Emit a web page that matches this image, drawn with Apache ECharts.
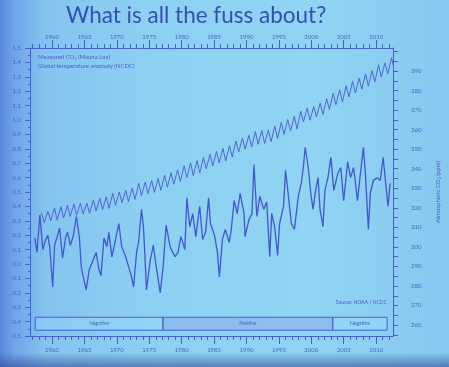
<!DOCTYPE html>
<html><head><meta charset="utf-8">
<script src="https://cdn.jsdelivr.net/npm/echarts@6/dist/echarts.min.js"></script>
<style>
html,body{margin:0;padding:0;width:449px;height:367px;overflow:hidden;}
body{background:
 linear-gradient(to bottom, rgba(0,0,0,0) 0%, rgba(0,0,0,0) 96%, rgba(40,60,140,0.55) 100%),
 linear-gradient(to right, #5a86dc 0%, #6fa3e8 3%, #84c4f0 10%, #8dd1f2 35%, #8fd4f2 70%, #86c8f0 100%);}
#c{width:449px;height:367px;filter:blur(0.45px);}
</style></head><body><div id="c"></div>
<script>
// ---- data ----
const titleText = 'What is all the fuss about?';
const yearLabels = [1960,1965,1970,1975,1980,1985,1990,1995,2000,2005,2010];
const co2Labels = [260,270,280,290,300,310,320,330,340,350,360,370,380,390];
const co2Years = [1958,1959,1960,1961,1962,1963,1964,1965,1966,1967,1968,1969,1970,1971,1972,1973,1974,1975,1976,1977,1978,1979,1980,1981,1982,1983,1984,1985,1986,1987,1988,1989,1990,1991,1992,1993,1994,1995,1996,1997,1998,1999,2000,2001,2002,2003,2004,2005,2006,2007,2008,2009,2010,2011,2012];
const co2MayPeak = [317.5,318.3,320.0,320.6,321.4,322.0,322.3,322.4,324.1,324.9,325.6,327.4,328.1,328.9,330.1,332.5,333.1,334.0,335.0,336.7,338.0,339.5,341.5,343.0,344.1,345.8,347.4,348.9,350.4,351.8,354.2,355.7,357.1,359.0,359.6,359.9,361.8,363.8,365.2,366.8,369.5,371.0,371.8,373.6,375.9,378.6,380.4,382.4,384.7,386.4,388.5,390.2,393.2,394.2,396.8];
const co2AutumnLow = [312.4,313.3,313.8,314.8,315.6,316.2,316.8,317.2,318.3,319.1,319.7,321.3,322.6,323.1,324.3,326.2,327.2,327.9,328.9,330.5,332.1,333.4,335.4,336.5,337.9,340.0,341.4,343.0,343.9,346.0,348.6,350.0,351.1,352.5,352.9,353.9,355.5,357.6,359.2,360.3,364.0,364.9,366.5,367.8,370.2,372.8,374.2,376.7,378.7,380.7,382.2,384.4,386.9,388.6,391.0];
const tempYears = [1957.36,1957.67,1958.12,1958.58,1959.03,1959.34,1959.64,1960.10,1960.40,1960.86,1961.17,1961.62,1962.08,1962.38,1962.84,1963.30,1963.75,1964.21,1964.51,1964.82,1965.27,1965.73,1966.19,1966.80,1967.25,1967.56,1968.01,1968.47,1968.77,1969.23,1969.84,1970.30,1970.75,1971.36,1971.82,1972.27,1972.58,1973.04,1973.34,1973.80,1974.10,1974.41,1974.56,1975.17,1975.62,1976.08,1976.69,1977.14,1977.60,1978.21,1978.97,1979.43,1979.88,1980.49,1980.80,1981.25,1981.71,1982.17,1982.78,1983.23,1983.69,1984.15,1984.45,1985.06,1985.52,1985.82,1986.28,1986.73,1987.34,1987.65,1988.10,1988.56,1989.02,1989.62,1989.78,1990.39,1990.84,1991.15,1991.60,1992.06,1992.67,1993.12,1993.58,1993.89,1994.34,1994.80,1995.10,1995.71,1996.02,1996.47,1996.93,1997.39,1997.99,1998.45,1998.76,1999.06,1999.52,1999.97,2000.28,2000.58,2001.04,2001.34,2001.80,2002.10,2002.56,2003.02,2003.47,2004.08,2004.54,2004.99,2005.60,2006.06,2006.52,2007.12,2007.58,2008.04,2008.34,2008.80,2009.10,2009.56,2010.17,2010.63,2011.08,2011.54,2011.84,2012.15];
const tempValues = [0.18,0.08,0.34,0.10,0.17,0.20,0.12,-0.16,0.13,0.20,0.25,0.04,0.18,0.22,0.13,0.20,0.33,0.19,-0.02,-0.09,-0.18,-0.04,0.01,0.08,-0.04,-0.08,0.18,0.12,0.22,0.05,0.18,0.28,0.12,0.05,-0.02,-0.09,-0.16,0.08,0.15,0.38,0.26,-0.02,-0.18,0.03,0.13,-0.02,-0.20,-0.02,0.27,0.12,0.05,0.08,0.19,0.10,0.46,0.26,0.35,0.19,0.40,0.17,0.22,0.46,0.28,0.20,0.08,-0.09,0.17,0.24,0.15,0.24,0.44,0.35,0.49,0.35,0.19,0.31,0.35,0.69,0.33,0.47,0.38,0.43,0.05,0.35,0.26,0.06,0.28,0.40,0.65,0.47,0.28,0.24,0.47,0.56,0.67,0.81,0.67,0.47,0.38,0.49,0.60,0.38,0.26,0.51,0.60,0.74,0.51,0.63,0.67,0.44,0.71,0.60,0.67,0.44,0.63,0.81,0.63,0.24,0.49,0.58,0.60,0.58,0.74,0.53,0.40,0.56];
const pdoLabels = ['Negative','Positive','Negative'];
const pdoStart = [1957.4,1977.1,2003.3];
const pdoEnd = [1977.1,2003.3,2011.7];
const legendLines = ['Measured CO\u2082 (Mauna Loa)','Global temperature anomaly (NCDC)'];
const sourceNote = 'Source: NOAA / NCDC';
const co2AxisName = 'Atmospheric CO\u2082 (ppm)';

// ---- build ----
const co2Points = [];
co2Years.forEach((y,i)=>{ co2Points.push([y+0.37, co2MayPeak[i]]); co2Points.push([y+0.79, co2AutumnLow[i]]); });
const tempPoints = tempYears.map((y,i)=>[y,tempValues[i]]);
const annualTicks = []; for(let y=1957;y<=2012;y++) annualTicks.push(y);
const co2MinorTicks = []; for(let v=255;v<=400;v+=5) co2MinorTicks.push(v);

const BLUE = '#4a5fcf';
const TXT = '#4a62c8';
const FONT = 'Lato, "Open Sans", sans-serif';
const XMIN = 1956.6, XMAX = 2012.6;

function xAx(pos, showLabels, ticks, len){
  return {type:'value', position:pos, min:XMIN, max:XMAX, gridIndex:0,
    axisLine:{show:showLabels, onZero:false, lineStyle:{color:BLUE,width:1}},
    axisTick:{show:true, customValues:ticks, length:len, lineStyle:{color:BLUE}},
    axisLabel:{show:showLabels, customValues:yearLabels, fontSize:6, color:TXT, fontFamily:FONT,
      margin:pos==='top'?8:11, formatter:v=>String(Math.round(v))},
    splitLine:{show:false}};
}

const chart = echarts.init(document.getElementById('c'), null, {renderer:'canvas'});
chart.setOption({
  animation:false,
  backgroundColor:'transparent',
  title:{text:titleText, left:61, top:-1, textStyle:{fontFamily:FONT, fontSize:22.5, fontWeight:'normal', color:'#3450b2'}},
  grid:{left:30, right:51, top:48, bottom:31, show:false},
  xAxis:[
    xAx('bottom', true, annualTicks, 4),
    xAx('top', true, annualTicks, 4),
    xAx('bottom', false, yearLabels, 8),
    xAx('top', false, yearLabels, 8)
  ],
  yAxis:[
    {type:'value', position:'left', min:-0.5, max:1.5, interval:0.1,
     axisLine:{show:true, onZero:false, lineStyle:{color:BLUE}},
     axisTick:{show:true, length:5, lineStyle:{color:BLUE}},
     minorTick:{show:true, splitNumber:2, length:2, lineStyle:{color:BLUE}},
     axisLabel:{fontSize:6, color:TXT, fontFamily:FONT, margin:9, formatter:v=>v.toFixed(1)},
     splitLine:{show:false}},
    {type:'value', position:'right', min:254.4, max:401.8,
     axisLine:{show:true, onZero:false, lineStyle:{color:BLUE}},
     axisTick:{show:true, customValues:co2MinorTicks, length:5, lineStyle:{color:BLUE}},
     axisLabel:{customValues:co2Labels, fontSize:6, color:TXT, fontFamily:FONT, margin:18},
     splitLine:{show:false},
     name:co2AxisName, nameLocation:'middle', nameGap:42, nameTextStyle:{fontSize:6, color:TXT, fontFamily:FONT}}
  ],
  series:[
    {type:'line', name:'co2', xAxisIndex:0, yAxisIndex:1, data:co2Points, showSymbol:false,
     lineStyle:{color:'#5064d6', width:1}, z:3},
    {type:'line', name:'temp', xAxisIndex:0, yAxisIndex:0, data:tempPoints, showSymbol:false,
     lineStyle:{color:'#4456d0', width:1.3}, z:4,
     markArea:{silent:true,
       label:{position:'inside', fontSize:5, color:TXT, fontFamily:FONT},
       data: pdoLabels.map((t,i)=>[
         {name:t, xAxis:pdoStart[i], yAxis:-0.37, itemStyle:{color: i===1?'rgba(130,120,225,0.22)':'rgba(160,225,250,0.25)', borderColor:BLUE, borderWidth:1}},
         {xAxis:pdoEnd[i], yAxis:-0.46}
       ])}}
  ],
  graphic:[
    {type:'text', left:38, top:54, style:{text:legendLines[0], fontSize:6, fill:TXT, fontFamily:FONT}},
    {type:'text', left:38, top:63, style:{text:legendLines[1], fontSize:6, fill:TXT, fontFamily:FONT}},
    {type:'text', right:62, top:300, style:{text:sourceNote, fontSize:5, fill:TXT, fontFamily:FONT}}
  ]
});
</script></body></html>
